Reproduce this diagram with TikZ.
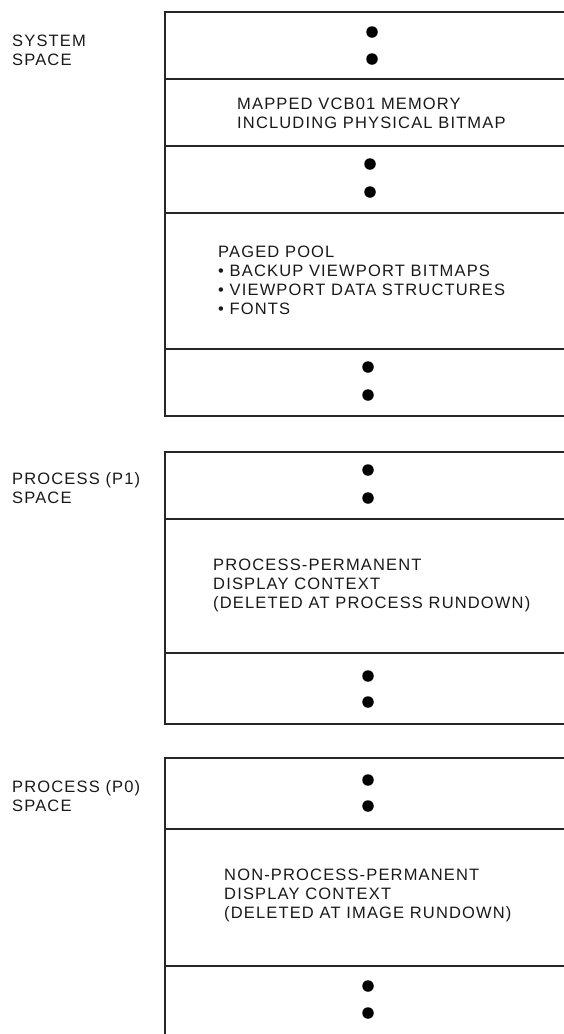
\documentclass[tikz,border=0pt]{standalone}
\usepackage{fontspec}
\setmainfont{Liberation Sans}[LetterSpace=7]
\begin{document}
\begin{tikzpicture}[x=1pt,y=-1pt,
  sec/.style={draw=black!85,line width=1.6pt,anchor=north west,minimum width=440pt,inner sep=0pt,outer sep=0pt},
  dot/.style={circle,fill=black,inner sep=0pt,minimum size=11.5pt},
  lbl/.style={anchor=north west,inner sep=0pt,align=left,font=\fontsize{16.5}{19}\selectfont,text=black!90}]
\useasboundingbox (0,0) rectangle (563,1034);
% stack 1 (system space)
\node[sec,minimum height=67pt]  (a1) at (165,12) {};
\node[sec,minimum height=67pt]  (a2) at (165,79) {};
\node[sec,minimum height=67pt]  (a3) at (165,146) {};
\node[sec,minimum height=136pt] (a4) at (165,213) {};
\node[sec,minimum height=67pt]  (a5) at (165,349) {};
% stack 2 (P1)
\node[sec,minimum height=67pt]  (b1) at (165,452) {};
\node[sec,minimum height=134pt] (b2) at (165,519) {};
\node[sec,minimum height=71pt]  (b3) at (165,653) {};
% stack 3 (P0)
\node[sec,minimum height=71pt]  (c1) at (165,758) {};
\node[sec,minimum height=137pt] (c2) at (165,829) {};
\node[sec,minimum height=90pt]  (c3) at (165,966) {};
% dots
\node[dot] (a1d1) at (372,32) {};  \node[dot] (a1d2) at (372,59) {};
\node[dot] (a3d1) at (370,164) {}; \node[dot] (a3d2) at (370,192) {};
\node[dot] (a5d1) at (368,367) {}; \node[dot] (a5d2) at (368,395) {};
\node[dot] (b1d1) at (368,470) {}; \node[dot] (b1d2) at (368,498) {};
\node[dot] (b3d1) at (368,676) {}; \node[dot] (b3d2) at (368,702) {};
\node[dot] (c1d1) at (368,780) {}; \node[dot] (c1d2) at (368,806) {};
\node[dot] (c3d1) at (368,986) {}; \node[dot] (c3d2) at (368,1013) {};
% side labels
\node[lbl] (ls) at (12,35) {SYSTEM\\SPACE};
\node[lbl] (lp1) at (12,472) {PROCESS (P1)\\SPACE};
\node[lbl] (lp0) at (12,780) {PROCESS (P0)\\SPACE};
% box texts
\node[lbl] (ta2) at (237,98) {MAPPED VCB01 MEMORY\\INCLUDING PHYSICAL BITMAP};
\node[lbl] (ta4) at (218,246) {PAGED POOL\\• BACKUP VIEWPORT BITMAPS\\• VIEWPORT DATA STRUCTURES\\• FONTS};
\node[lbl] (tb2) at (213,559) {PROCESS-PERMANENT\\DISPLAY CONTEXT\\(DELETED AT PROCESS RUNDOWN)};
\node[lbl] (tc2) at (224,869) {NON-PROCESS-PERMANENT\\DISPLAY CONTEXT\\(DELETED AT IMAGE RUNDOWN)};
\end{tikzpicture}
\end{document}
